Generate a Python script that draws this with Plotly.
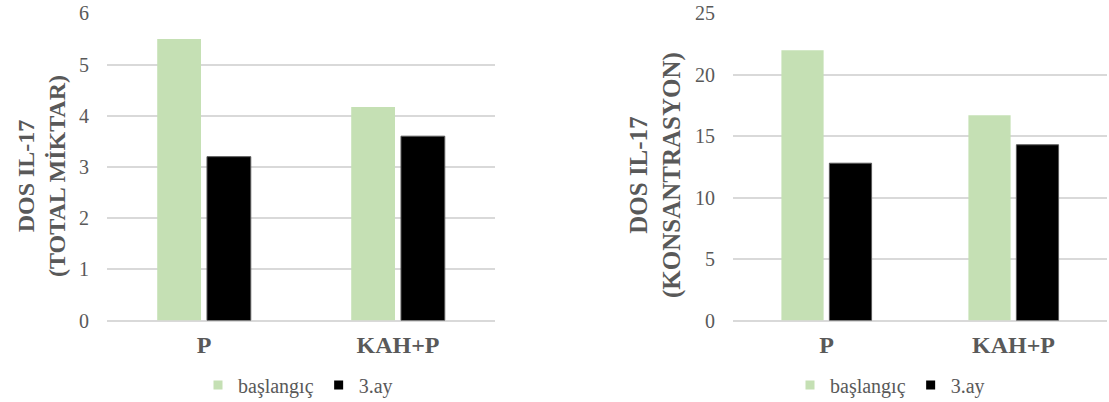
import plotly.graph_objects as go

# Data
categories = ["P", "KAH+P"]
series_names = ["başlangıç", "3.ay"]
total_baslangic = [5.5, 4.17]
total_3ay = [3.2, 3.6]
kons_baslangic = [22.0, 16.7]
kons_3ay = [12.8, 14.3]
left_ticks = [0, 1, 2, 3, 4, 5, 6]
right_ticks = [0, 5, 10, 15, 20, 25]
left_title = "DOS IL-17<br>(TOTAL MİKTAR)"
right_title = "DOS IL-17<br>(KONSANTRASYON)"

GREEN = "#c5e0b4"
BLACK = "#000000"
TEXT = "#595959"
GRID = "#d9d9d9"
FONT = "Liberation Serif"

W, H = 1109, 402

fig = go.Figure()

panels = [
    ("x", "y", "legend", total_baslangic, total_3ay),
    ("x2", "y2", "legend2", kons_baslangic, kons_3ay),
]
for xa, ya, lg, base_vals, month3_vals in panels:
    fig.add_trace(go.Bar(x=categories, y=base_vals, name=series_names[0],
                         marker=dict(color=GREEN, line=dict(width=0)),
                         xaxis=xa, yaxis=ya, showlegend=False))
    fig.add_trace(go.Bar(x=categories, y=month3_vals, name=series_names[1],
                         marker=dict(color=BLACK, line=dict(color="#595959", width=1)),
                         xaxis=xa, yaxis=ya, showlegend=False))
    # small square legend keys
    for name, col in zip(series_names, [GREEN, BLACK]):
        fig.add_trace(go.Scatter(x=[None], y=[None], mode="markers", name=name,
                                 marker=dict(symbol="square", size=9, color=col),
                                 xaxis=xa, yaxis=ya, legend=lg, hoverinfo="skip"))

ydom = [1 - 320.5 / H, 1 - 13.3 / H]

xaxis_common = dict(showgrid=False, zeroline=False, showline=False, ticks="",
                    tickfont=dict(family=FONT, size=24, color=TEXT, weight="bold"),
                    ticklabelstandoff=7, fixedrange=True, automargin=False)
yaxis_common = dict(showgrid=True, gridcolor=GRID, gridwidth=1.5, zeroline=True,
                    zerolinecolor=GRID, zerolinewidth=1.5, showline=False, ticks="",
                    tickfont=dict(family=FONT, size=20, color=TEXT),
                    ticklabelstandoff=17, fixedrange=True, automargin=False)

legend_common = dict(orientation="h", xanchor="center", yanchor="middle",
                     xref="container", yref="container",
                     font=dict(family=FONT, size=20, color=TEXT),
                     bgcolor="rgba(0,0,0,0)", itemwidth=30, tracegroupgap=0)

fig.update_layout(
    width=W, height=H,
    margin=dict(l=0, r=0, t=0, b=0, autoexpand=False),
    paper_bgcolor="white", plot_bgcolor="white",
    font=dict(family=FONT, color=TEXT),
    barmode="group", bargap=0.487, bargroupgap=0.12,
    xaxis=dict(domain=[107 / W, 495 / W], anchor="y", **xaxis_common),
    yaxis=dict(domain=ydom, anchor="x", range=[0, 6], tickvals=left_ticks, **yaxis_common),
    xaxis2=dict(domain=[733 / W, 1107 / W], anchor="y2", **xaxis_common),
    yaxis2=dict(domain=ydom, anchor="x2", range=[0, 25], tickvals=right_ticks, **yaxis_common),
    legend=dict(x=298 / W, y=1 - 385 / H, **legend_common),
    legend2=dict(x=890 / W, y=1 - 385 / H, **legend_common),
    annotations=[
        dict(text=left_title, x=41 / W, y=1 - 176 / H, xref="paper", yref="paper",
             textangle=-90, showarrow=False, xanchor="center", yanchor="middle",
             font=dict(family=FONT, size=24, color=TEXT, weight="bold")),
        dict(text=right_title, x=656 / W, y=1 - 175 / H, xref="paper", yref="paper",
             textangle=-90, showarrow=False, xanchor="center", yanchor="middle",
             font=dict(family=FONT, size=25, color=TEXT, weight="bold")),
    ],
)

fig.write_html("out.html")
